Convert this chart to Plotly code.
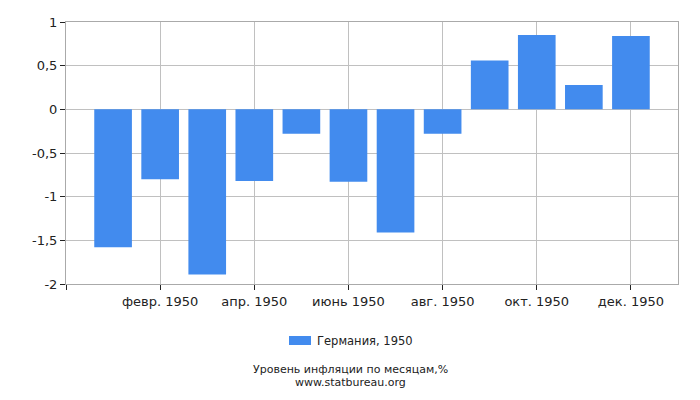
import plotly.graph_objects as go

months = ["янв. 1950", "февр. 1950", "март 1950", "апр. 1950", "май 1950", "июнь 1950",
          "июль 1950", "авг. 1950", "сент. 1950", "окт. 1950", "нояб. 1950", "дек. 1950"]
values = [-1.58, -0.80, -1.89, -0.82, -0.28, -0.83, -1.41, -0.28, 0.56, 0.85, 0.28, 0.84]
series_name = "Германия, 1950"
tick_idx = [1, 3, 5, 7, 9, 11]
tick_labels = [months[i] for i in tick_idx]
y_ticks = [1, 0.5, 0, -0.5, -1, -1.5, -2]
y_labels = ["1", "0,5", "0", "-0,5", "-1", "-1,5", "-2"]
bar_color = "#428bee"

font = "DejaVu Sans"
fig = go.Figure()
fig.add_trace(go.Bar(x=list(range(len(values))), y=values, name=series_name,
                     marker=dict(color=bar_color, line=dict(width=0)), width=0.8,
                     showlegend=False))

W, H = 700, 400
l, r, t, b = 66, 22, 22, 116
ph = H - t - b
pw = W - l - r


def py(pix):
    return (H - b - pix) / ph


def px(pix):
    return (pix - l) / pw


fig.update_layout(
    width=W, height=H,
    margin=dict(l=l, r=r, t=t, b=b),
    plot_bgcolor="white", paper_bgcolor="white",
    font=dict(family=font, size=12, color="#222"),
    showlegend=False,
    xaxis=dict(range=[-1, 12], tickmode="array", tickvals=[-1] + tick_idx,
               ticktext=[""] + tick_labels, showgrid=True, gridcolor="#c0c0c0",
               gridwidth=1, ticks="outside", ticklen=5, tickcolor="#222",
               showline=True, linecolor="#aaaaaa", mirror=True, zeroline=False,
               tickfont=dict(size=13, color="#222")),
    yaxis=dict(range=[-2, 1], tickmode="array", tickvals=y_ticks, ticktext=y_labels,
               showgrid=True, gridcolor="#c0c0c0", gridwidth=1, ticks="outside",
               ticklen=5, tickcolor="#222", showline=True, linecolor="#aaaaaa",
               mirror=True, zeroline=False, tickfont=dict(size=13, color="#222")),
    shapes=[dict(type="rect", xref="paper", yref="paper", x0=px(289), x1=px(311),
                 y0=py(345), y1=py(336), fillcolor=bar_color, line=dict(width=0))],
    annotations=[
        dict(text=series_name, x=px(315), y=py(341), xref="paper", yref="paper",
             xanchor="left", yanchor="middle", showarrow=False,
             font=dict(size=11.5, color="#222")),
        dict(text="Уровень инфляции по месяцам,%", x=px(W / 2),
             y=py(369.5), xref="paper", yref="paper", xanchor="center", yanchor="middle",
             showarrow=False, font=dict(size=11, color="#222")),
        dict(text="www.statbureau.org", x=px(W / 2),
             y=py(382), xref="paper", yref="paper", xanchor="center", yanchor="middle",
             showarrow=False, font=dict(size=11, color="#222")),
    ],
)
fig.write_html("out.html", config={"displayModeBar": False},
               post_script="document.body.style.margin='0';")
